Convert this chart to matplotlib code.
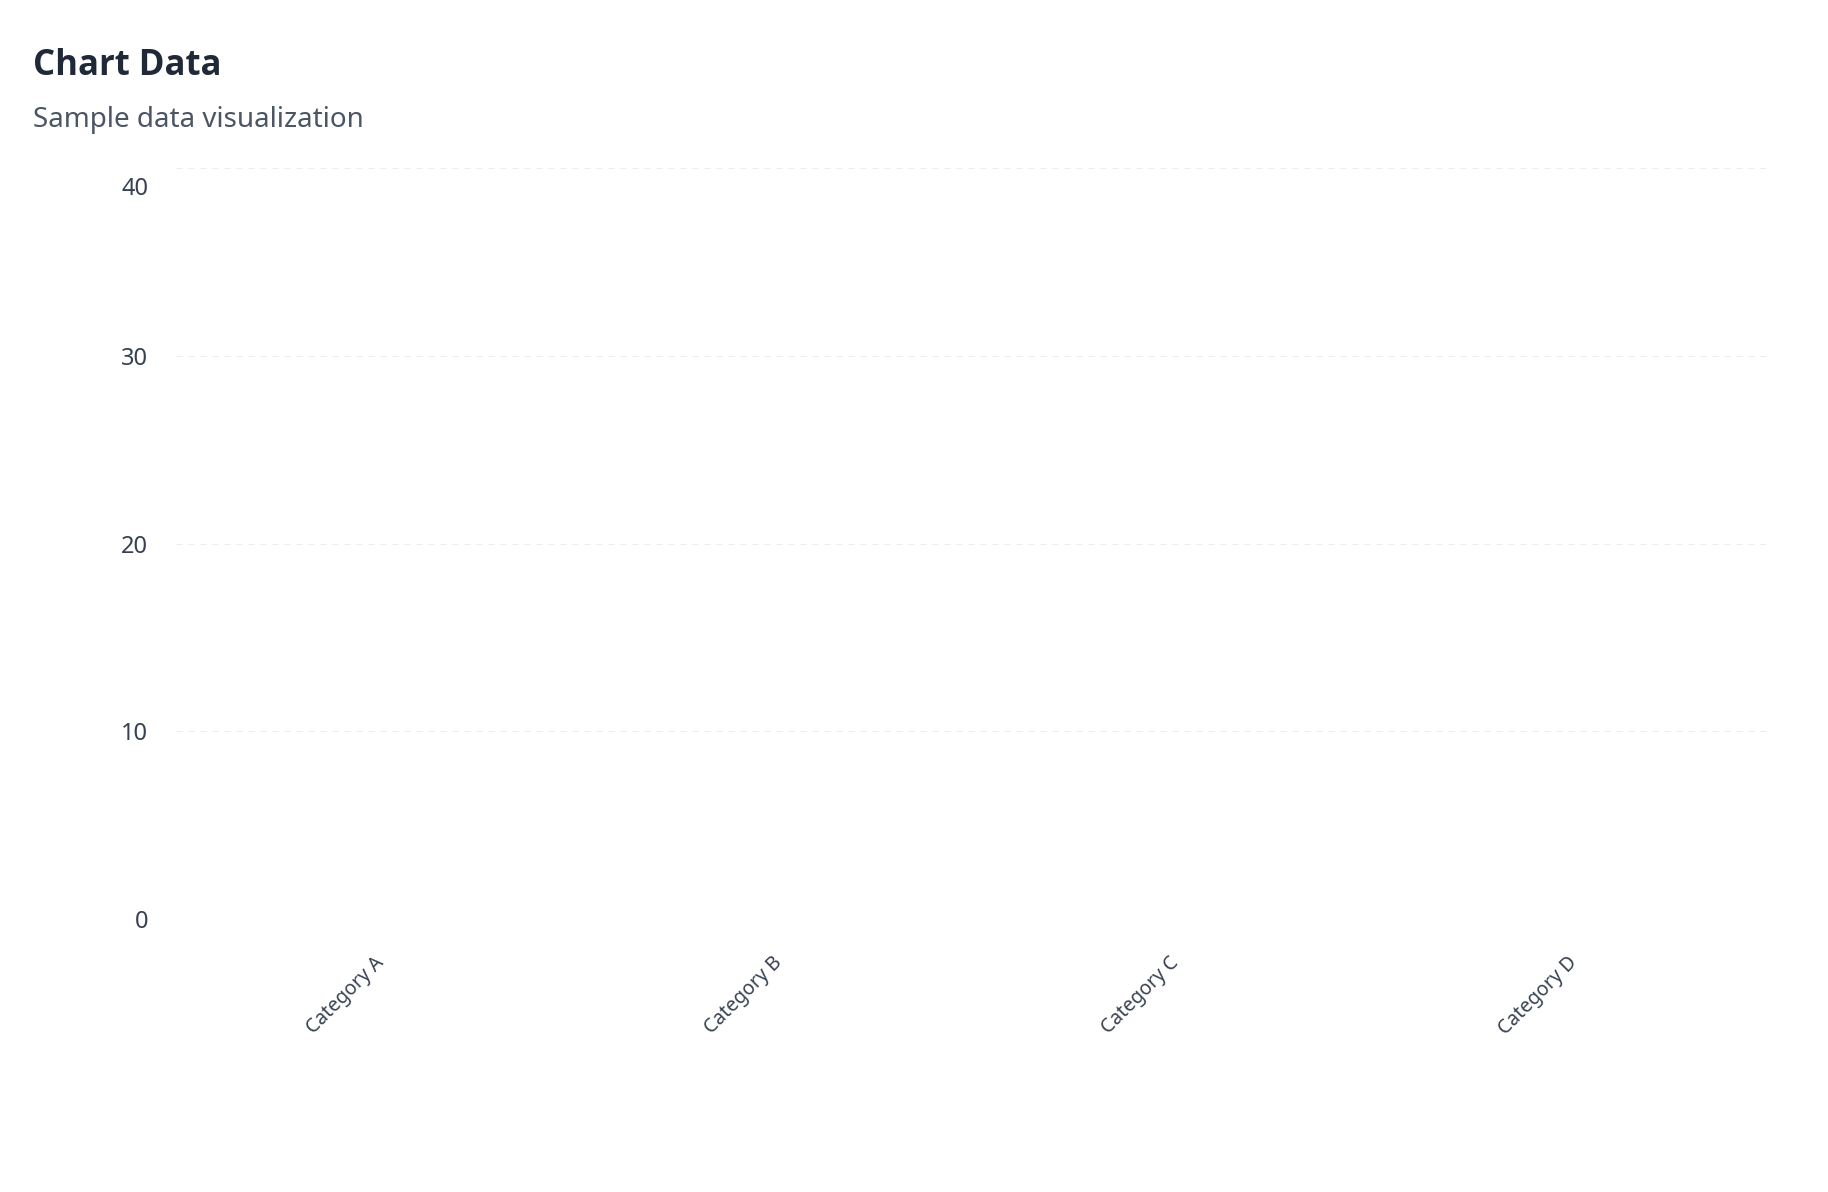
import matplotlib.pyplot as plt
from matplotlib.transforms import ScaledTranslation

plt.rcParams['font.family'] = ['Noto Sans', 'DejaVu Sans']

categories = ['Category A', 'Category B', 'Category C', 'Category D']
values = [0, 0, 0, 0]
y_ticks = [0, 10, 20, 30, 40]

fig = plt.figure(figsize=(18.28, 11.92), dpi=100)
ax = fig.add_axes([0.0963, 0.2288, 0.8698, 0.6304])

ax.bar(range(len(categories)), values, width=0.8, color='#3b82f6')
ax.set_xlim(-0.5, len(categories) - 0.5)
ax.set_ylim(0, 40)

ax.set_yticks(y_ticks)
ax.set_yticklabels([str(v) for v in y_ticks])
ax.set_xticks(range(len(categories)))
ax.set_xticklabels(categories, rotation=45, ha='right', va='center',
                   rotation_mode='anchor')

ax.tick_params(axis='y', length=0, pad=20, labelsize=17, labelcolor='#374151')
ax.tick_params(axis='x', length=0, pad=29, labelsize=14, labelcolor='#374151')
# top label sits below its grid line
top = ax.get_yticklabels()[-1]
top.set_transform(top.get_transform() + ScaledTranslation(0, -0.18, fig.dpi_scale_trans))
for lab in ax.get_xticklabels():
    lab.set_transform(lab.get_transform() + ScaledTranslation(0.065, 0, fig.dpi_scale_trans))

for s in ax.spines.values():
    s.set_visible(False)
ax.grid(axis='y', color='#ececec', linewidth=0.72, linestyle=(0, (6, 6)))
ax.set_axisbelow(True)

fig.text(33 / 1828, 1 - 75 / 1192, 'Chart Data', fontsize=25, fontweight='bold',
         family=['Open Sans', 'DejaVu Sans'], color='#1f2937', va='baseline')
fig.text(33 / 1828, 1 - 127 / 1192, 'Sample data visualization', fontsize=20,
         color='#4b5563', va='baseline')

fig.savefig('out.png', dpi=100, facecolor='white')
